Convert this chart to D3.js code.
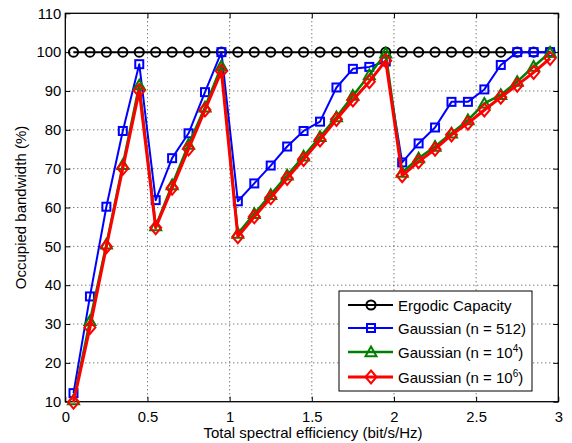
<!DOCTYPE html>
<html><head><meta charset="utf-8">
<script src="https://cdn.jsdelivr.net/npm/d3@7"></script>
<style>body{margin:0;background:#fff;}svg{display:block;font-family:"Liberation Sans",Arial,sans-serif;}</style>
</head><body>
<svg id="chart" width="572" height="443"></svg>
<script>
const xValues = [0.05,0.15,0.25,0.35,0.45,0.55,0.65,0.75,0.85,0.95,1.05,1.15,1.25,1.35,1.45,1.55,1.65,1.75,1.85,1.95,2.05,2.15,2.25,2.35,2.45,2.55,2.65,2.75,2.85,2.95];
const ergodic = [100,100,100,100,100,100,100,100,100,100,100,100,100,100,100,100,100,100,100,100,100,100,100,100,100,100,100,100,100,100];
const gauss512 = [12.2,37.1,60.2,79.7,96.9,61.9,72.7,79.1,89.7,100,61.6,66.2,70.8,75.7,79.7,82.1,90.9,95.7,96.2,97.6,71.6,76.5,80.6,87.2,87.2,90.4,96.7,100,100,100];
const gauss1e4 = [10.4,30.8,50.5,71.0,91.5,55.2,65.8,76.2,85.8,96.4,53.3,58.4,63.3,68.3,73.2,78.2,83.3,88.8,94.1,99.7,69.0,72.7,75.7,79.1,82.5,86.8,89.0,92.4,96.3,99.9];
const gauss1e6 = [9.9,29.1,49.9,70.1,90.1,54.8,65.0,75.1,85.1,95.1,52.5,57.6,62.5,67.5,72.4,77.4,82.7,87.7,92.4,97.8,68.2,71.8,75.0,78.7,81.7,85.1,88.4,91.5,94.8,98.4];
const xTicks = [0,0.5,1,1.5,2,2.5,3];
const xTickLabels = ["0","0.5","1","1.5","2","2.5","3"];
const yTicks = [10,20,30,40,50,60,70,80,90,100,110];
const yTickLabels = ["10","20","30","40","50","60","70","80","90","100","110"];
const seriesNames = ["Ergodic Capacity","Gaussian (n = 512)","Gaussian (n = 10","Gaussian (n = 10"];
const seriesSup = ["","","4","6"];

const svg = d3.select("#chart");
const L=65.3, R=558.3, T=13.3, B=401.7;
const x = d3.scaleLinear().domain([0,3]).range([L,R]);
const y = d3.scaleLinear().domain([10,110]).range([B,T]);

// grid
const g = svg.append("g");
g.selectAll(".gx").data(xTicks.slice(1,-1)).join("line")
  .attr("x1",d=>x(d)).attr("x2",d=>x(d)).attr("y1",T).attr("y2",B)
  .attr("stroke","#444").attr("stroke-width",1).attr("stroke-dasharray","1,3");
g.selectAll(".gy").data(yTicks.slice(1,-1)).join("line")
  .attr("y1",d=>y(d)).attr("y2",d=>y(d)).attr("x1",L).attr("x2",R)
  .attr("stroke","#444").attr("stroke-width",1).attr("stroke-dasharray","1,3");

// axes with inward ticks
const xAxisB = d3.axisBottom(x).tickValues(xTicks).tickFormat((d,i)=>xTickLabels[i]).tickSizeInner(-5).tickSizeOuter(0).tickPadding(10);
const xAxisT = d3.axisTop(x).tickValues(xTicks).tickFormat("").tickSizeInner(-5).tickSizeOuter(0);
const yAxisL = d3.axisLeft(y).tickValues(yTicks).tickFormat((d,i)=>yTickLabels[i]).tickSizeInner(-5).tickSizeOuter(0).tickPadding(4);
const yAxisR = d3.axisRight(y).tickValues(yTicks).tickFormat("").tickSizeInner(-5).tickSizeOuter(0);
function styleAxis(sel){
  sel.select(".domain").remove();
  sel.selectAll("line").attr("stroke","#000");
  sel.selectAll("text").attr("fill","#000").style("font-size","14.8px").style("font-family","Liberation Sans, Arial, sans-serif");
}
svg.append("g").attr("transform",`translate(0,${B})`).call(xAxisB).call(styleAxis);
svg.append("g").attr("transform",`translate(0,${T})`).call(xAxisT).call(styleAxis);
svg.append("g").attr("transform",`translate(${L},0)`).call(yAxisL).call(styleAxis);
svg.append("g").attr("transform",`translate(${R},0)`).call(yAxisR).call(styleAxis);
svg.append("rect").attr("x",L).attr("y",T).attr("width",R-L).attr("height",B-T)
  .attr("fill","none").attr("stroke","#000").attr("stroke-width",1.3);

// labels
svg.append("text").attr("x",313).attr("y",438).attr("text-anchor","middle")
  .style("font-size","15px").text("Total spectral efficiency (bit/s/Hz)");
svg.append("text").attr("transform",`translate(25.5,${(T+B)/2}) rotate(-90)`).attr("text-anchor","middle")
  .style("font-size","15px").text("Occupied bandwidth (%)");

// markers
function marker(sel, type, color){
  if(type==="circle") sel.append("circle").attr("r",4.6).attr("fill","none").attr("stroke",color).attr("stroke-width",2);
  else if(type==="square") sel.append("rect").attr("x",-4).attr("y",-4).attr("width",8).attr("height",8).attr("fill","none").attr("stroke",color).attr("stroke-width",2);
  else if(type==="triangle") sel.append("path").attr("d","M0,-5.5L5.5,4.2L-5.5,4.2Z").attr("fill","none").attr("stroke",color).attr("stroke-width",2);
  else if(type==="diamond") sel.append("path").attr("d","M0,-6.5L5.5,0L0,6.5L-5.5,0Z").attr("fill","none").attr("stroke",color).attr("stroke-width",2);
}
const series = [
  {vals:ergodic, color:"#000", lw:2, m:"circle"},
  {vals:gauss512, color:"#0000ff", lw:2, m:"square"},
  {vals:gauss1e4, color:"#008000", lw:2.5, m:"triangle"},
  {vals:gauss1e6, color:"#ff0000", lw:3, m:"diamond"}
];
const line = d3.line().x(d=>x(d[0])).y(d=>y(d[1]));
series.forEach(s=>{
  const pts = xValues.map((xv,i)=>[xv,s.vals[i]]);
  svg.append("path").datum(pts).attr("d",line).attr("fill","none")
    .attr("stroke",s.color).attr("stroke-width",s.lw).attr("stroke-linejoin","round");
  pts.forEach(p=>{
    const mg = svg.append("g").attr("transform",`translate(${x(p[0])},${y(p[1])})`);
    marker(mg,s.m,s.color);
  });
});

// legend
const lg = svg.append("g");
lg.append("rect").attr("x",339).attr("y",291).attr("width",193).attr("height",100)
  .attr("fill","#fff").attr("stroke","#000").attr("stroke-width",1);
const ly = [305,328,352,377];
series.forEach((s,i)=>{
  lg.append("line").attr("x1",348).attr("x2",393).attr("y1",ly[i]).attr("y2",ly[i])
    .attr("stroke",s.color).attr("stroke-width",s.lw);
  const mg = lg.append("g").attr("transform",`translate(371,${ly[i]})`);
  marker(mg,s.m,s.color);
  const t = lg.append("text").attr("x",398).attr("y",ly[i]+5.5).style("font-size","15px").text(seriesNames[i]);
  if(seriesSup[i]){
    t.append("tspan").attr("dy",-6).style("font-size","10px").text(seriesSup[i]);
    t.append("tspan").attr("dy",6).text(")");
  }
});
</script>
</body></html>
